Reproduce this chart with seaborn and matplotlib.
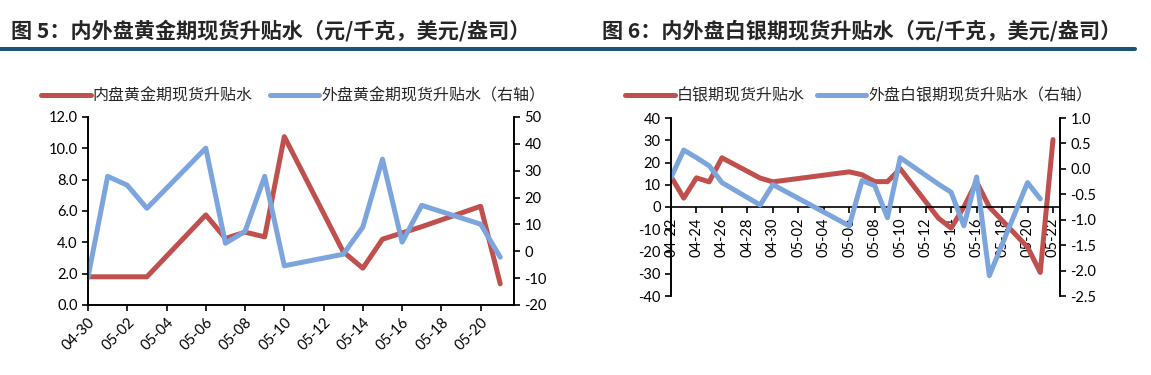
import numpy as np
import pandas as pd
import seaborn as sns
import matplotlib.pyplot as plt
import matplotlib.dates as mdates
from matplotlib.lines import Line2D
from matplotlib.ticker import FormatStrFormatter

# ---- data (2024 dates) ----
gold_cn_dates = ['04-30', '05-03', '05-06', '05-07', '05-08', '05-09', '05-10',
                 '05-13', '05-14', '05-15', '05-16', '05-17', '05-20', '05-21']
gold_cn = [1.8, 1.8, 5.75, 4.25, 4.65, 4.35, 10.75, 3.4, 2.35, 4.2, 4.6, 5.0, 6.3, 1.35]

gold_us_dates = ['04-30', '05-01', '05-02', '05-03', '05-06', '05-07', '05-08', '05-09',
                 '05-10', '05-13', '05-14', '05-15', '05-16', '05-17', '05-20', '05-21']
gold_us = [-9.7, 27.9, 24.6, 16.0, 38.4, 3.0, 7.4, 27.9, -5.4, -1.1, 9.0, 34.3, 3.4, 17.1, 10.1, -2.2]

silver_cn_dates = ['04-22', '04-23', '04-24', '04-25', '04-26', '04-29', '04-30', '05-06',
                   '05-07', '05-08', '05-09', '05-10', '05-13', '05-14', '05-15', '05-16',
                   '05-17', '05-20', '05-21', '05-22']
silver_cn = [13.7, 4.0, 13.1, 11.3, 22.1, 13.0, 11.3, 15.8, 14.5, 11.4, 11.4, 17.2,
             -5.0, -9.5, 0.0, 11.3, 0.0, -18.0, -29.4, 30.3]

silver_us_dates = ['04-22', '04-23', '04-24', '04-25', '04-26', '04-29', '04-30', '05-06',
                   '05-07', '05-08', '05-09', '05-10', '05-13', '05-14', '05-15', '05-16',
                   '05-17', '05-20', '05-21']
silver_us = [-0.17, 0.37, 0.22, 0.06, -0.27, -0.71, -0.31, -1.12, -0.23, -0.33, -0.96, 0.22,
             -0.30, -0.46, -1.12, -0.16, -2.1, -0.27, -0.59]

title_gold = '图 5：内外盘黄金期现货升贴水（元/千克，美元/盎司）'
title_silver = '图 6：内外盘白银期现货升贴水（元/千克，美元/盎司）'
labels_gold = ['内盘黄金期现货升贴水', '外盘黄金期现货升贴水（右轴）']
labels_silver = ['白银期现货升贴水', '外盘白银期现货升贴水（右轴）']

sns.set_style("ticks")
plt.rcParams['font.family'] = ['Lato', 'Noto Sans CJK SC', 'DejaVu Sans']
plt.rcParams['axes.unicode_minus'] = False

RED = '#C0504D'
BLUE = '#7BA5DC'
LW = 3.6
CJK = ['Noto Sans CJK SC', 'DejaVu Sans']
W, H = 1151, 375


def to_dt(days):
    return pd.to_datetime(['2024-' + d for d in days])


def style_axes(ax, axr):
    for a in (ax, axr):
        a.spines['top'].set_visible(False)
        for s in ('left', 'right', 'bottom'):
            a.spines[s].set_color('black')
            a.spines[s].set_linewidth(1.2)
        a.tick_params(direction='out', length=4, width=1.2, labelsize=10.5, colors='black')
        a.set_xlabel('')
        a.set_ylabel('')
        a.grid(False)


fig = plt.figure(figsize=(W / 100, H / 100), dpi=100)

# ---- gold panel ----
ax1 = fig.add_axes([88 / W, 1 - 305 / H, 426 / W, 188 / H])
ax1r = ax1.twinx()
sns.lineplot(x=to_dt(gold_cn_dates), y=gold_cn, ax=ax1, color=RED, lw=LW)
sns.lineplot(x=to_dt(gold_us_dates), y=gold_us, ax=ax1r, color=BLUE, lw=LW)
start = pd.Timestamp('2024-04-30')
ax1.set_xlim(start, start + pd.Timedelta(days=21.7))
ax1.set_ylim(0, 12)
ax1.set_yticks(np.arange(0, 12.1, 2))
ax1.yaxis.set_major_formatter(FormatStrFormatter('%.1f'))
ax1r.set_ylim(-20, 50)
ax1r.set_yticks(np.arange(-20, 51, 10))
ax1.set_xticks(pd.date_range('2024-04-30', '2024-05-20', freq='2D'))
ax1.xaxis.set_major_formatter(mdates.DateFormatter('%m-%d'))
style_axes(ax1, ax1r)
for t in ax1.get_xticklabels():
    t.set_rotation(45)
    t.set_ha('right')
    t.set_rotation_mode('anchor')

# ---- silver panel ----
ax2 = fig.add_axes([671 / W, 1 - 296 / H, 389 / W, 178 / H])
ax2r = ax2.twinx()
sns.lineplot(x=to_dt(silver_cn_dates), y=silver_cn, ax=ax2, color=RED, lw=LW)
sns.lineplot(x=to_dt(silver_us_dates), y=silver_us, ax=ax2r, color=BLUE, lw=LW)
start2 = pd.Timestamp('2024-04-22')
ax2.set_xlim(start2, start2 + pd.Timedelta(days=30.55))
ax2.set_ylim(-40, 40)
ax2.set_yticks(np.arange(-40, 41, 10))
ax2r.set_ylim(-2.5, 1.0)
ax2r.set_yticks(np.arange(-2.5, 1.01, 0.5))
ax2r.yaxis.set_major_formatter(FormatStrFormatter('%.1f'))
ax2.set_xticks(pd.date_range('2024-04-22', '2024-05-22', freq='2D'))
ax2.xaxis.set_major_formatter(mdates.DateFormatter('%m-%d'))
style_axes(ax2, ax2r)
ax2.spines['bottom'].set_position(('data', 0))
ax2r.spines['bottom'].set_visible(False)
for t in ax2.get_xticklabels():
    t.set_rotation(90)
    t.set_ha('center')
    t.set_va('top')

# ---- titles, rule and legends ----
fig.text(11 / W, 1 - 31 / H, title_gold, fontsize=15.2, fontweight='bold',
         va='center', family=CJK)
fig.text(602 / W, 1 - 31 / H, title_silver, fontsize=15.2, fontweight='bold',
         va='center', family=CJK)
fig.add_artist(Line2D([0, 1135 / W], [1 - 49 / H] * 2, color='#1B5478', lw=2.9))

handles = [Line2D([], [], color=RED, lw=LW), Line2D([], [], color=BLUE, lw=LW)]
fig.legend(handles, labels_gold, loc='center left', bbox_to_anchor=(41 / W, 1 - 96 / H),
           ncol=2, frameon=False, handlelength=3.1, handletextpad=0.15,
           columnspacing=1.05, borderpad=0, borderaxespad=0,
           prop={'family': CJK, 'size': 11.5})
fig.legend(handles, labels_silver, loc='center left', bbox_to_anchor=(625 / W, 1 - 96 / H),
           ncol=2, frameon=False, handlelength=3.1, handletextpad=0.15,
           columnspacing=0.75, borderpad=0, borderaxespad=0,
           prop={'family': CJK, 'size': 11.5})

fig.savefig('out.png', dpi=100)
